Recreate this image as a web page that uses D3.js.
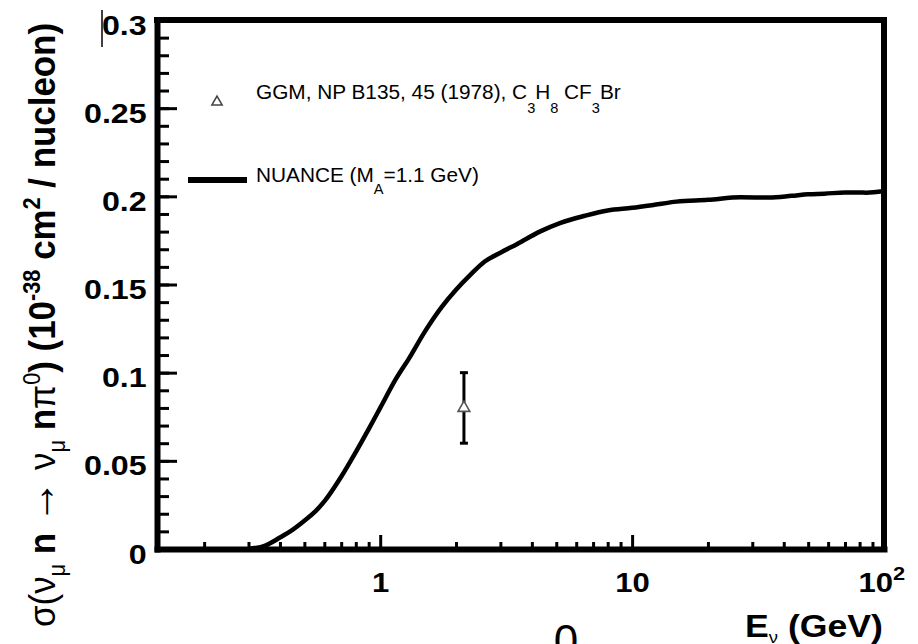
<!DOCTYPE html>
<html>
<head>
<meta charset="utf-8">
<script src="https://cdn.jsdelivr.net/npm/d3@7"></script>
<style>
  body { margin: 0; background: #fff; }
  text { font-family: "Liberation Sans", Arial, Helvetica, sans-serif; }
</style>
</head>
<body>
<div id="chart"></div>
<script>
// NUANCE prediction, sigma(nu_mu n -> nu_mu n pi0) vs E_nu
const energies = [0.30, 0.35, 0.40, 0.45, 0.50, 0.55, 0.60, 0.70, 0.80, 0.90,
    1.00, 1.15, 1.30, 1.50, 1.75, 2.0, 2.3, 2.6, 3.0, 3.5,
    4.3, 5.2, 6.5, 8.0, 10, 12, 15, 20, 27, 35,
    43, 50, 58, 70, 85, 100];
const sigmaNuance = [0.000, 0.002, 0.0065, 0.011, 0.016, 0.021, 0.027, 0.041, 0.055, 0.068,
    0.080, 0.096, 0.108, 0.123, 0.137, 0.147, 0.156, 0.163, 0.168, 0.173,
    0.180, 0.185, 0.189, 0.192, 0.1935, 0.195, 0.197, 0.198, 0.1995, 0.1993,
    0.2003, 0.2012, 0.2015, 0.2022, 0.2021, 0.203];

// GGM measurement
const ggmEnergy = [2.15];
const ggmSigma = [0.08];
const ggmErrLow = [0.06];
const ggmErrHigh = [0.10];

const yMajorTicks = [0, 0.05, 0.1, 0.15, 0.2, 0.25, 0.3];
const yTickLabels = ["0", "0.05", "0.1", "0.15", "0.2", "0.25", "0.3"];
const yMinorTicks = d3.range(0, 0.3001, 0.01);
const xMajorTicks = [1, 10, 100];
const xTickLabels = ["1", "10", "10"];
const xMinorTicks = [0.2, 0.3, 0.4, 0.5, 0.6, 0.7, 0.8, 0.9,
    2, 3, 4, 5, 6, 7, 8, 9, 20, 30, 40, 50, 60, 70, 80, 90];

function createChart() {
    let width = 918;
    let height = 644;
    let left = 157, right = 884, top = 20, bottom = 549;
    let stretch = 1.15; // the scan is wider than it is tall

    const svg = d3.select('#chart').append("svg")
        .attr("width", width)
        .attr("height", height)
        .style("display", "block");

    svg.append("rect").attr("width", width).attr("height", height).attr("fill", "#fff");

    const x = d3.scaleLog().domain([0.13, 100]).range([left, right]);
    const y = d3.scaleLinear().domain([0, 0.3]).range([bottom, top]);

    // frame (top and right)
    svg.append("path")
        .attr("d", `M${left},${top}H${right}V${bottom}`)
        .attr("fill", "none")
        .attr("stroke", "#000")
        .attr("stroke-width", 6)
        .attr("stroke-linecap", "square");

    // y axis, ticks pointing inwards
    const yMinor = svg.append("g")
        .attr("transform", `translate(${left},0)`)
        .call(d3.axisLeft(y).tickValues(yMinorTicks).tickSizeInner(-12).tickSizeOuter(0).tickFormat(""));
    const yMajor = svg.append("g")
        .attr("transform", `translate(${left},0)`)
        .call(d3.axisLeft(y).tickValues(yMajorTicks).tickSizeInner(-20).tickSizeOuter(0).tickPadding(9)
            .tickFormat((d, i) => yTickLabels[i]));

    // x axis
    const xMinor = svg.append("g")
        .attr("transform", `translate(0,${bottom})`)
        .call(d3.axisBottom(x).tickValues(xMinorTicks).tickSizeInner(-7).tickSizeOuter(0).tickFormat(""));
    const xMajor = svg.append("g")
        .attr("transform", `translate(0,${bottom})`)
        .call(d3.axisBottom(x).tickValues(xMajorTicks).tickSizeInner(-14).tickSizeOuter(0).tickPadding(24)
            .tickFormat((d, i) => xTickLabels[i]));

    [yMinor, yMajor, xMinor, xMajor].forEach(g => {
        g.select(".domain").attr("stroke-width", 6).attr("stroke-linecap", "square");
        g.selectAll(".tick line").attr("stroke-width", 3);
    });
    xMinor.select(".domain").remove();
    yMinor.select(".domain").remove();

    yMajor.selectAll(".tick text")
        .attr("font-size", 28).attr("font-weight", "bold").attr("fill", "#000")
        .attr("font-family", "Liberation Sans, Arial, sans-serif")
        .attr("dy", "0.5em")
        .attr("transform", `scale(${stretch},1)`);
    xMajor.selectAll(".tick text")
        .attr("font-size", 27).attr("font-weight", "bold").attr("fill", "#000")
        .attr("font-family", "Liberation Sans, Arial, sans-serif")
        .attr("transform", `scale(${stretch},1)`);
    // exponent on the 10^2 label
    xMajor.selectAll(".tick text").filter(d => d === 100)
        .attr("text-anchor", "end").attr("x", 18)
        .append("tspan").attr("dy", -12).attr("font-size", 19).text("2");

    // NUANCE curve
    const line = d3.line()
        .x((d, i) => x(energies[i]))
        .y(d => y(d))
        .curve(d3.curveMonotoneX);
    svg.append("path")
        .datum(sigmaNuance)
        .attr("d", line)
        .attr("fill", "none")
        .attr("stroke", "#000")
        .attr("stroke-width", 4.5)
        .attr("stroke-linejoin", "round");

    // GGM point with error bar
    const tri = d3.symbol().type(d3.symbolTriangle).size(60);
    const pts = svg.append("g");
    ggmEnergy.forEach((e, i) => {
        pts.append("line")
            .attr("x1", x(e)).attr("x2", x(e))
            .attr("y1", y(ggmErrLow[i])).attr("y2", y(ggmErrHigh[i]))
            .attr("stroke", "#000").attr("stroke-width", 3);
        [ggmErrLow[i], ggmErrHigh[i]].forEach(v => {
            pts.append("line")
                .attr("x1", x(e) - 4).attr("x2", x(e) + 4)
                .attr("y1", y(v)).attr("y2", y(v))
                .attr("stroke", "#000").attr("stroke-width", 3);
        });
        pts.append("path")
            .attr("d", tri)
            .attr("transform", `translate(${x(e)},${y(ggmSigma[i])})`)
            .attr("fill", "#fff").attr("stroke", "#555").attr("stroke-width", 1.6);
    });

    // legend
    const leg = svg.append("g").attr("font-size", 20);
    leg.append("path")
        .attr("d", d3.symbol().type(d3.symbolTriangle).size(45))
        .attr("transform", "translate(217,102)")
        .attr("fill", "#fff").attr("stroke", "#444").attr("stroke-width", 1.6);
    const t1 = leg.append("text").attr("transform", "translate(256,99) scale(1.04,1)");
    t1.append("tspan").text("GGM, NP B135, 45 (1978), C");
    t1.append("tspan").attr("dy", 14).attr("font-size", 14).text("3");
    t1.append("tspan").attr("dy", -14).text("H");
    t1.append("tspan").attr("dy", 14).attr("font-size", 14).text("8");
    t1.append("tspan").attr("dy", -14).text(" CF");
    t1.append("tspan").attr("dy", 14).attr("font-size", 14).text("3");
    t1.append("tspan").attr("dy", -14).text("Br");

    leg.append("line")
        .attr("x1", 188).attr("x2", 247).attr("y1", 180).attr("y2", 180)
        .attr("stroke", "#000").attr("stroke-width", 6);
    const t2 = leg.append("text").attr("transform", "translate(256,182) scale(1.04,1)");
    t2.append("tspan").text("NUANCE (M");
    t2.append("tspan").attr("dy", 12).attr("font-size", 14).text("A");
    t2.append("tspan").attr("dy", -12).text("=1.1 GeV)");

    // y axis title
    const yt = svg.append("text")
        .attr("transform", `translate(55,325) scale(${stretch},1) rotate(-90)`)
        .attr("text-anchor", "middle")
        .attr("font-size", 32)
        .attr("font-weight", "bold");
    const parts = [
        ["σ(ν", 0, 32, "normal"], ["μ", 9, 20, "normal"], [" n ", -9, 32, "bold"],
        ["→", 0, 40, "normal"], [" ν", 0, 32, "normal"], ["μ", 9, 20, "normal"], [" n", -9, 32, "bold"],
        ["π", 0, 32, "normal"], ["0", -13, 20, "normal"], [") (10", 13, 32, "bold"],
        ["-38", -13, 20, "bold"], [" cm", 13, 32, "bold"], ["2", -13, 20, "bold"],
        [" / nucleon)", 13, 32, "bold"]
    ];
    parts.forEach(p => {
        yt.append("tspan").attr("dy", p[1]).attr("font-size", p[2])
            .attr("font-weight", p[3]).text(p[0]);
    });
    yt.attr("textLength", 604).attr("lengthAdjust", "spacingAndGlyphs");

    // x axis title
    const xt = svg.append("text")
        .attr("transform", `translate(883,637) scale(${stretch},1)`)
        .attr("text-anchor", "end")
        .attr("font-size", 31)
        .attr("font-weight", "bold");
    xt.append("tspan").text("E");
    xt.append("tspan").attr("dy", 6).attr("font-size", 16).attr("font-weight", "normal").text("ν");
    xt.append("tspan").attr("dy", -6).text(" (GeV)");

    // stray marks in the scan
    svg.append("line").attr("x1", 102).attr("x2", 102).attr("y1", 10).attr("y2", 47)
        .attr("stroke", "#000").attr("stroke-width", 1.5);
    svg.append("text").attr("x", 566).attr("y", 656).attr("text-anchor", "middle")
        .attr("font-family", "Liberation Serif, Times New Roman, serif")
        .attr("font-size", 44).text("0");
}

document.addEventListener('DOMContentLoaded', function (e) {
    createChart();
});
</script>
</body>
</html>
